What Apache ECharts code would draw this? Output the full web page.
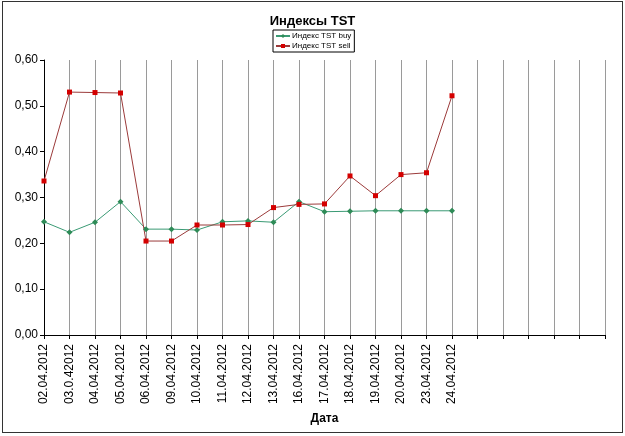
<!DOCTYPE html>
<html>
<head>
<meta charset="utf-8">
<script src="https://cdn.jsdelivr.net/npm/echarts@6/dist/echarts.min.js"></script>
<style>
  html, body { margin: 0; padding: 0; background: #fff; }
  #chart { position: absolute; left: 2px; top: 1px; width: 619px; height: 430px; border: 1px solid #333; }
</style>
</head>
<body>
<div id="chart"></div>
<script>
// даты (последние 6 категорий пустые, как в исходной таблице)
const dates = [
  '02.04.2012', '03.0.42012', '04.04.2012', '05.04.2012', '06.04.2012', '09.04.2012',
  '10.04.2012', '11.04.2012', '12.04.2012', '13.04.2012', '16.04.2012', '17.04.2012',
  '18.04.2012', '19.04.2012', '20.04.2012', '23.04.2012', '24.04.2012',
  '', '', '', '', '', ''
];
const buyValues = [0.247, 0.224, 0.246, 0.291, 0.231, 0.231, 0.229, 0.247, 0.249, 0.246,
  0.291, 0.269, 0.270, 0.271, 0.271, 0.271, 0.271];
const sellValues = [0.336, 0.530, 0.529, 0.528, 0.205, 0.205, 0.240, 0.240, 0.241, 0.278,
  0.285, 0.286, 0.347, 0.304, 0.350, 0.354, 0.522];
const yTicks = [0, 0.1, 0.2, 0.3, 0.4, 0.5, 0.6];

const chart = echarts.init(document.getElementById('chart'));

const option = {
  animation: false,
  textStyle: { fontFamily: 'Liberation Sans, Arial, sans-serif' },
  title: {
    text: 'Индексы TST',
    left: 'center',
    top: 8,
    textStyle: { fontSize: 13, fontWeight: 'bold', color: '#000' }
  },
  legend: {
    orient: 'vertical',
    left: 270,
    top: 28,
    itemWidth: 14,
    itemHeight: 5,
    itemGap: 2,
    padding: [2, 3, 2, 2],
    borderColor: '#000',
    borderWidth: 1,
    textStyle: { fontSize: 8, color: '#000', padding: [0, 0, 0, -3] },
    data: ['Индекс TST buy', 'Индекс TST sell']
  },
  grid: { left: 41, right: 17, top: 58, bottom: 97 },
  xAxis: {
    type: 'category',
    data: dates,
    boundaryGap: false,
    name: 'Дата',
    nameLocation: 'middle',
    nameGap: 78,
    nameTextStyle: { fontSize: 12, fontWeight: 'bold', color: '#000' },
    axisLine: { lineStyle: { color: '#000', width: 1 } },
    axisTick: { show: true, length: 4, lineStyle: { color: '#000' } },
    axisLabel: { interval: 0, rotate: 90, fontSize: 12, color: '#000', margin: 9 },
    splitLine: { show: true, interval: 0, lineStyle: { color: '#9a9a9a', width: 1 } }
  },
  yAxis: {
    type: 'value',
    min: yTicks[0],
    max: yTicks[yTicks.length - 1],
    interval: 0.1,
    axisLine: { show: true, lineStyle: { color: '#000', width: 1 } },
    axisTick: { show: true, length: 4, lineStyle: { color: '#000' } },
    axisLabel: {
      fontSize: 12,
      color: '#000',
      margin: 6,
      formatter: v => v.toFixed(2).replace('.', ',')
    },
    splitLine: { show: false }
  },
  series: [
    {
      name: 'Индекс TST buy',
      type: 'line',
      data: buyValues,
      symbol: 'diamond',
      symbolSize: 6,
      lineStyle: { color: '#3a9a74', width: 1 },
      itemStyle: { color: '#2e8b57' }
    },
    {
      name: 'Индекс TST sell',
      type: 'line',
      data: sellValues,
      symbol: 'rect',
      symbolSize: 5,
      lineStyle: { color: '#9b3a3a', width: 1 },
      itemStyle: { color: '#d40000' }
    }
  ]
};

chart.setOption(option);
</script>
</body>
</html>
